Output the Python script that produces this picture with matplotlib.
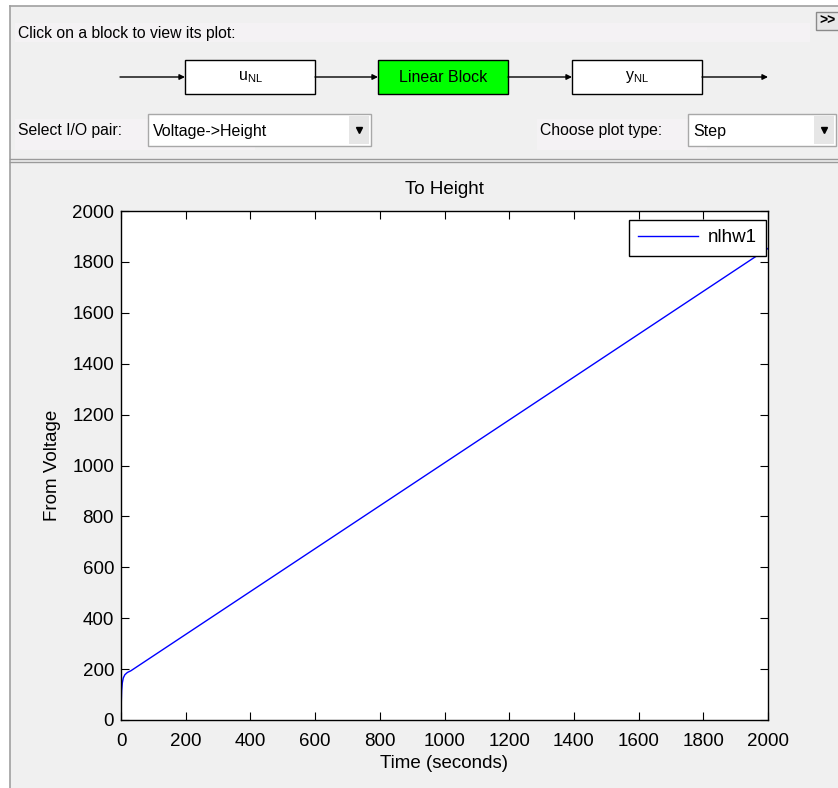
import matplotlib.pyplot as plt
from matplotlib.patches import Rectangle

# step response
time_s = [0, 0.5, 1, 2, 4, 7, 12, 20, 30, 2000]
height = [0, 0, 75, 115, 145, 165, 178, 187, 193, 1853]

x_ticks = [0, 200, 400, 600, 800, 1000, 1200, 1400, 1600, 1800, 2000]
y_ticks = [0, 200, 400, 600, 800, 1000, 1200, 1400, 1600, 1800, 2000]

blocks = ['$\\mathregular{u_{NL}}$', 'Linear Block', '$\\mathregular{y_{NL}}$']
block_colors = ['white', '#00ff00', 'white']

plt.rcParams['font.family'] = ['Liberation Sans', 'DejaVu Sans']

W, H = 838, 788
fig = plt.figure(figsize=(W / 100, H / 100), dpi=100, facecolor='#f0f0f0')

# gui panel drawn in pixel coordinates
gui = fig.add_axes([0, 0, 1, 1], zorder=0)
gui.set_xlim(0, W)
gui.set_ylim(H, 0)
gui.axis('off')

gui.add_patch(Rectangle((0, 0), W, 6, color='white', lw=0))
gui.add_patch(Rectangle((0, 0), 10, H, color='white', lw=0))
gui.plot([10, W], [6, 6], color='#a0a0a0', lw=1.2)
gui.plot([10, 10], [6, H], color='#a0a0a0', lw=1.2)

gui.add_patch(Rectangle((15, 23), 795, 19, color='#f4f2f4', lw=0))
gui.text(18, 33, 'Click on a block to view its plot:', fontsize=11.3, va='center')

# ">>" button
gui.add_patch(Rectangle((816, 12), 30, 18, fc='#e8e8e8', ec='#8a8a8a', lw=1))
gui.text(819, 21, '>>', fontsize=10, va='center', fontweight='bold')

# block diagram
bx = [185, 378, 572]
bw, by, bh = 130, 60, 34
ly = 77
segs = [(120, 185), (315, 378), (508, 572), (702, 768)]
for x0, x1 in segs:
    gui.annotate('', xy=(x1, ly), xytext=(x0, ly),
                 arrowprops=dict(arrowstyle='-|>', color='black', lw=1,
                                 mutation_scale=8, shrinkA=0, shrinkB=0))
for x, lab, c in zip(bx, blocks, block_colors):
    gui.add_patch(Rectangle((x, by), bw, bh, fc=c, ec='black', lw=1))
    gui.text(x + bw / 2, by + bh / 2, lab, fontsize=11.5, ha='center', va='center')

# dropdowns
def dropdown(x, w, label, lx, lw_bg):
    gui.add_patch(Rectangle((lx - 3, 119), lw_bg, 31, color='#f4f2f4', lw=0))
    gui.text(lx, 130, label, fontsize=11.3, va='center')
    gui.add_patch(Rectangle((x, 114), w, 32, fc='white', ec='#a8a8a8', lw=1))
    gui.add_patch(Rectangle((x + w - 22, 116), 20, 28, fc='#e6e6e6', lw=0))
    gui.plot([x + w - 12], [130], marker='v', color='black', ms=5)

dropdown(148, 223, 'Select I/O pair:', 18, 240)
gui.text(153, 131, 'Voltage->Height', fontsize=11.5, va='center')
dropdown(688, 148, 'Choose plot type:', 540, 170)
gui.text(693, 131, 'Step', fontsize=11.5, va='center')

gui.plot([10, W], [159, 159], color='#9a9a9a', lw=1)
gui.plot([10, W], [162, 162], color='#9a9a9a', lw=1)

# plot axes
ax = fig.add_axes([121 / W, 1 - 720 / H, 647 / W, 509 / H], zorder=1)
ax.plot(time_s, height, color='blue', lw=1, label='nlhw1')
ax.set_xlim(0, 2000)
ax.set_ylim(0, 2000)
ax.set_xticks(x_ticks)
ax.set_yticks(y_ticks)
ax.tick_params(direction='in', top=True, right=True, labelsize=13.5, length=6)
ax.tick_params(axis='x', pad=9)
ax.tick_params(axis='y', pad=5)
ax.set_title('To Height', fontsize=13.5, pad=12)
ax.set_xlabel('Time (seconds)', fontsize=13.5, labelpad=4)
ax.set_ylabel('From Voltage', fontsize=13.5, labelpad=8)
for s in ax.spines.values():
    s.set_linewidth(1)
leg = ax.legend(loc='upper right', bbox_to_anchor=(0.997, 0.983), fontsize=13.5,
                fancybox=False, edgecolor='black', framealpha=1,
                borderaxespad=0, borderpad=0.5, handlelength=3.2,
                handletextpad=0.5)
leg.get_frame().set_linewidth(1)

plt.savefig('out.png', dpi=100, facecolor=fig.get_facecolor())
